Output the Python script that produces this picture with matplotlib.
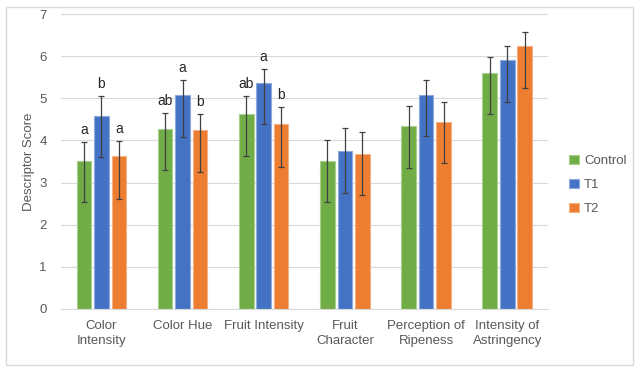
import numpy as np
import matplotlib.pyplot as plt
from matplotlib.patches import Rectangle

categories = ["Color\nIntensity", "Color Hue", "Fruit Intensity",
              "Fruit\nCharacter", "Perception of\nRipeness", "Intensity of\nAstringency"]
series = ["Control", "T1", "T2"]
control = [3.52, 4.28, 4.63, 3.52, 4.35, 5.61]
t1 = [4.58, 5.08, 5.36, 3.75, 5.07, 5.91]
t2 = [3.64, 4.25, 4.39, 3.69, 4.44, 6.25]
# error bar ends (upper / lower)
control_hi = [3.97, 4.65, 5.05, 4.01, 4.82, 5.99]
control_lo = [2.53, 3.29, 3.63, 2.53, 3.34, 4.62]
t1_hi = [5.05, 5.43, 5.69, 4.29, 5.43, 6.24]
t1_lo = [3.61, 4.09, 4.38, 2.76, 4.10, 4.91]
t2_hi = [3.98, 4.62, 4.79, 4.21, 4.91, 6.58]
t2_lo = [2.62, 3.25, 3.37, 2.71, 3.46, 5.24]
letters = [["a", "b", "a"], ["ab", "a", "b"], ["ab", "a", "b"],
           ["", "", ""], ["", "", ""], ["", "", ""]]

colors = ["#70AD47", "#4472C4", "#ED7D31"]
edges = ["#A9D18E", "#8FAADC", "#F4B183"]
txt = "#595959"
plt.rcParams['font.family'] = ['Liberation Sans', 'DejaVu Sans']

fig = plt.figure(figsize=(6.4, 3.73), dpi=100)
ax = fig.add_axes([0.095, 0.172, 0.761, 0.79])
fig.patches.append(Rectangle((6/640, 8/373), 627/640, 358/373, transform=fig.transFigure,
                             fill=False, edgecolor="#D9D9D9", lw=1))

x = np.arange(len(categories))
w = 0.18
step = 0.215
vals = [control, t1, t2]
his = [control_hi, t1_hi, t2_hi]
los = [control_lo, t1_lo, t2_lo]
for i in range(3):
    v = np.array(vals[i])
    yerr = [v - np.array(los[i]), np.array(his[i]) - v]
    ax.bar(x + (i - 1) * step, v, w, color=colors[i], edgecolor=edges[i], lw=0.8,
           label=series[i], zorder=2)
    ax.errorbar(x + (i - 1) * step, v, yerr=yerr, fmt="none", ecolor="#404040",
                elinewidth=0.9, capsize=2.5, capthick=0.9, zorder=3)
    for j in range(len(categories)):
        if letters[j][i]:
            ax.text(x[j] + (i - 1) * step, his[i][j] + 0.12, letters[j][i],
                    ha="center", va="bottom", fontsize=10, color="#262626")

ax.set_xlim(-0.5, len(categories) - 0.5)
ax.set_ylim(0, 7)
ax.set_yticks(range(8))
ax.set_xticks(x)
ax.set_xticklabels(categories, fontsize=9.5, color=txt, linespacing=1.3)
ax.tick_params(axis="y", labelsize=9.5, labelcolor=txt, length=0, pad=10)
ax.tick_params(axis="x", length=0, pad=8)
ax.grid(axis="y", color="#D9D9D9", lw=0.8, zorder=0)
ax.set_axisbelow(True)
for s in ["top", "right", "left"]:
    ax.spines[s].set_visible(False)
ax.spines["bottom"].set_color("#D9D9D9")
ax.set_ylabel("Descriptor Score", fontsize=9.5, color=txt, labelpad=3)

ax.legend(loc="center left", bbox_to_anchor=(1.02, 0.42), frameon=False, fontsize=9.5,
          labelcolor=txt, handlelength=0.7, handleheight=0.7, handletextpad=0.4,
          labelspacing=0.9)

fig.savefig("out.png", dpi=100)
